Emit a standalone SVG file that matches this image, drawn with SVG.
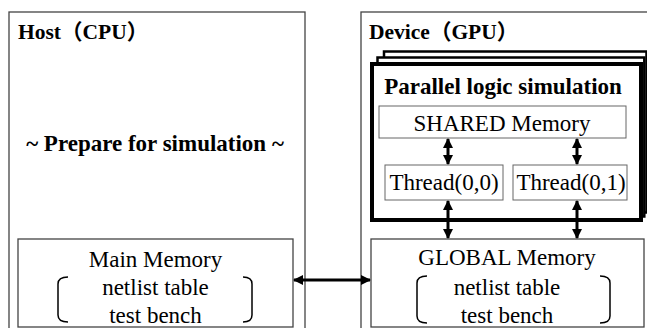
<svg xmlns="http://www.w3.org/2000/svg" width="647" height="328" viewBox="0 0 647 328">
<style>
text{font-family:"Liberation Serif",serif;fill:#000}
.cjk{font-family:"Liberation Serif","Noto Sans CJK JP",serif;font-size:21.5px;font-weight:bold}
.t{font-size:23px}
.b{font-size:23px;font-weight:bold}
.c{text-anchor:middle}
.outer{fill:#fff;stroke:#444;stroke-width:1.3}
.inner{fill:#fff;stroke:#666;stroke-width:1}
.frame{fill:#fff;stroke:#000}
.br{fill:none;stroke:#000;stroke-width:1.5}
.arr{stroke:#000;stroke-width:3;fill:none;marker-start:url(#ah);marker-end:url(#ah)}
</style>
<defs>
<marker id="ah" viewBox="0 0 10 10" refX="9" refY="5" markerWidth="10" markerHeight="10" markerUnits="userSpaceOnUse" orient="auto-start-reverse">
<path d="M0,0 L10,5 L0,10 Z" fill="#000"/>
</marker>
</defs>
<rect width="647" height="328" fill="#fff"/>
<g id="host">
<rect class="outer" x="9" y="12" width="296" height="330"/>
<text class="cjk" x="18" y="39">Host（CPU）</text>
<text class="b c" x="155" y="151">~ Prepare for simulation ~</text>
</g>
<g id="device">
<rect class="outer" x="361" y="12" width="300" height="330"/>
<text class="cjk" x="369" y="39">Device（GPU）</text>
</g>
<g id="parallel-logic-simulation">
<rect class="frame" x="384" y="51.5" width="262.5" height="161" stroke-width="2.5"/>
<rect class="frame" x="377.5" y="57.5" width="266.8" height="159" stroke-width="2.5"/>
<rect class="frame" x="372" y="64" width="269" height="156" stroke-width="4"/>
<text class="b c" x="503" y="94">Parallel logic simulation</text>
</g>
<g id="shared-memory">
<rect class="inner" x="379" y="106" width="247" height="32"/>
<text class="t c" x="502" y="131">SHARED Memory</text>
</g>
<g id="thread-0-0">
<rect class="inner" x="385" y="165" width="118" height="35"/>
<text class="t c" x="444" y="190">Thread(0,0)</text>
</g>
<g id="thread-0-1">
<rect class="inner" x="513" y="165" width="114" height="35"/>
<text class="t c" x="571" y="190">Thread(0,1)</text>
</g>
<g id="main-memory">
<rect class="outer" x="18" y="239" width="275" height="88"/>
<text class="t c" x="155.5" y="267">Main Memory</text>
<text class="t c" x="155.5" y="295">netlist table</text>
<text class="t c" x="155.5" y="323">test bench</text>
<path class="br" d="M68,277 Q58,277 58,284 L58,315 Q58,322 68,322"/>
<path class="br" d="M243,277 Q252,277 252,284 L252,315 Q252,322 243,322"/>
</g>
<g id="global-memory">
<rect class="outer" x="371" y="239" width="273" height="88"/>
<text class="t c" x="507" y="265">GLOBAL Memory</text>
<text class="t c" x="507" y="295">netlist table</text>
<text class="t c" x="507" y="323">test bench</text>
<path class="br" d="M427,276 Q417,276 417,283 L417,316 Q417,323 427,323"/>
<path class="br" d="M600,276 Q610,276 610,283 L610,316 Q610,323 600,323"/>
</g>
<g id="connectors">
<line class="arr" x1="294" y1="280" x2="370" y2="280"/>
<line class="arr" x1="448" y1="139" x2="448" y2="164"/>
<line class="arr" x1="577" y1="139" x2="577" y2="164"/>
<line class="arr" x1="448" y1="201" x2="448" y2="238"/>
<line class="arr" x1="577" y1="201" x2="577" y2="238"/>
</g>
</svg>
